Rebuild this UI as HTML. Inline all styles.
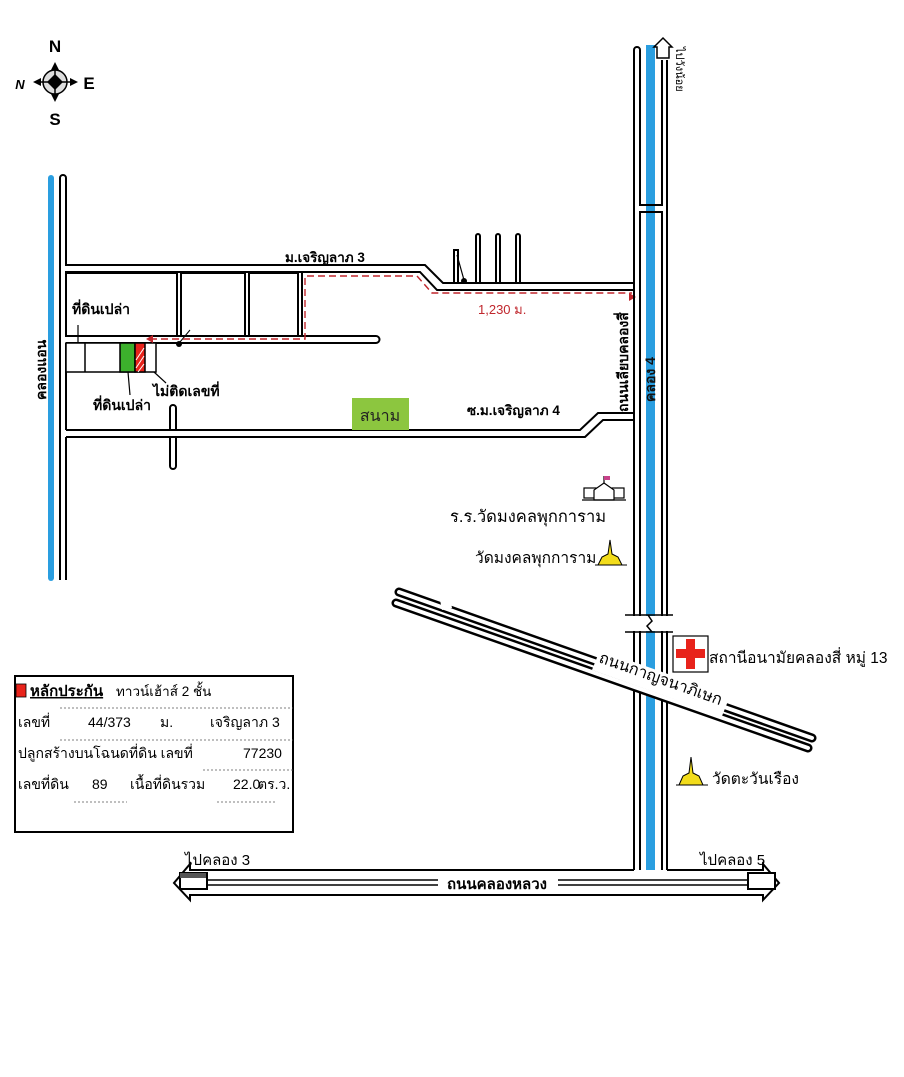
<!DOCTYPE html>
<html><head><meta charset="utf-8"><style>
html,body{margin:0;padding:0;background:#fff;}
svg{display:block;}
text{font-family:"Liberation Sans","Noto Sans CJK SC","WenQuanYi Zen Hei",sans-serif;}
</style></head><body>
<svg width="904" height="1077" viewBox="0 0 904 1077" xmlns="http://www.w3.org/2000/svg">
<rect width="904" height="1077" fill="#fff"/>
<!-- compass -->
<g fill="#000">
<text x="55" y="52" font-size="17" font-weight="bold" text-anchor="middle">N</text>
<text x="55" y="125" font-size="17" font-weight="bold" text-anchor="middle">S</text>
<text x="89" y="89" font-size="17" font-weight="bold" text-anchor="middle">E</text>
<text x="20" y="89" font-size="13" font-weight="bold" font-style="italic" text-anchor="middle">N</text>
<circle cx="55" cy="82" r="12" fill="#ddd" stroke="#000" stroke-width="1.5"/>
<polygon points="55,74 63,82 55,90 47,82"/>
<line x1="55" y1="65" x2="55" y2="99" stroke="#000" stroke-width="1.5"/>
<line x1="38" y1="82" x2="72" y2="82" stroke="#000" stroke-width="1.5"/>
<polygon points="55,62 51,70 59,70"/><polygon points="55,102 51,94 59,94"/>
<polygon points="78,82 70,78 70,86"/><polygon points="33,82 41,78 41,86"/>
</g>

<!-- left canal and road -->
<line x1="51" y1="178" x2="51" y2="578" stroke="#2a9ee0" stroke-width="6" stroke-linecap="round"/>
<g fill="none" stroke="#000" stroke-width="2">
<path d="M60,580 V178 a3,3 0 0 1 6,0 V265 H425 L443,283 H634"/>
<path d="M66,580 V437 M66,430 V343 M66,336 V272 H420 L437,290 H634"/>
<path d="M66,336 H376 a3.5,3.5 0 0 1 0,7 H66"/>
<rect x="66" y="273" width="111" height="63"/>
<rect x="181" y="273" width="64" height="63"/>
<rect x="249" y="273" width="49" height="63"/>
<path d="M302,336 V273"/>
<path d="M454,283 V250 H458 V283 M476,283 V236 a2,2 0 0 1 4,0 V283 M496,283 V236 a2,2 0 0 1 4,0 V283 M516,283 V236 a2,2 0 0 1 4,0 V283"/>
<line x1="457" y1="255" x2="464" y2="280" stroke-width="1.2"/>
<path d="M66,430 H580 L598,413 H634"/>
<path d="M66,437 H585 L603,420 H634"/>
<path d="M170,430 V408 a3,3 0 0 1 6,0 V430 M170,437 V466 a3,3 0 0 0 6,0 V437"/>
</g>
<circle cx="464" cy="281" r="3" fill="#000"/>
<circle cx="179" cy="344" r="3" fill="#000"/>
<line x1="180" y1="342" x2="190" y2="330" stroke="#000" stroke-width="1"/>
<!-- lots -->
<g stroke="#000" stroke-width="1.5">
<rect x="66" y="343" width="90" height="29" fill="#fff"/>
<line x1="85" y1="343" x2="85" y2="372"/>
<rect x="120" y="343" width="15" height="29" fill="#3cb02c"/>
<rect x="135" y="343" width="10" height="29" fill="#e8231b"/>
</g>
<g stroke="#fff" stroke-width="1"><line x1="136" y1="360" x2="144" y2="348"/><line x1="136" y1="368" x2="144" y2="356"/><line x1="138" y1="372" x2="144" y2="364"/></g>
<line x1="78" y1="343" x2="78" y2="325" stroke="#000" stroke-width="1.2"/>
<line x1="128" y1="372" x2="130" y2="395" stroke="#000" stroke-width="1.2"/>
<line x1="154" y1="372" x2="166" y2="383" stroke="#000" stroke-width="1.2"/>
<rect x="352" y="398" width="57" height="32" fill="#8cc63f"/>
<text x="380" y="421" font-size="16" text-anchor="middle" fill="#222">สนาม</text>
<path d="M150,339 H305 V276 H417 L432,293 H632" fill="none" stroke="#c0272d" stroke-width="1.4" stroke-dasharray="7,4"/>
<polygon points="146,339 153,335 153,343" fill="#c0272d"/>
<polygon points="636,297 629,293 629,301" fill="#c0272d"/>

<!-- main vertical road -->
<rect x="646" y="45" width="9" height="825" fill="#2a9ee0"/>
<g fill="none" stroke="#000" stroke-width="2">
<path d="M634,870 V50 a3,3 0 0 1 6,0 V205 H662 V60"/>
<path d="M640,870 V212 H662 V870"/>
<path d="M667,60 V870"/>
</g>
<polygon points="657,58 657,47 654,47 663,38 672,47 669,47 669,58" fill="#fff" stroke="#000" stroke-width="1.5"/>
<rect x="628" y="616" width="46" height="15" fill="#fff"/>
<g stroke="#000" stroke-width="1.5" fill="none">
<line x1="625" y1="615" x2="673" y2="615"/><line x1="625" y1="632" x2="673" y2="632"/>
<path d="M648,615 L652,621 L647,626 L652,632"/>
</g>
<!-- diagonal road -->
<g fill="none" stroke-linecap="round">
<line x1="399" y1="592" x2="812" y2="738" stroke="#000" stroke-width="9"/>
<line x1="399" y1="592" x2="812" y2="738" stroke="#fff" stroke-width="4"/>
<line x1="396" y1="603" x2="808" y2="748" stroke="#000" stroke-width="9"/>
<line x1="396" y1="603" x2="808" y2="748" stroke="#fff" stroke-width="4"/>
</g>
<polygon points="440,600 450,598 452,608 442,610" fill="#fff"/>
<polygon points="600,650 730,696 722,716 592,670" fill="#fff"/>
<text transform="translate(598,662) rotate(19.5)" font-size="16" fill="#000">ถนนกาญจนาภิเษก</text>

<!-- bottom road -->
<g fill="none" stroke="#000" stroke-width="2">
<path d="M634,870 H190 V864 L174,883 L190,900 V895 H763 V900 L779,883 L763,864 V870 H667"/>
<rect x="180" y="873" width="27" height="16" fill="#fff"/>
<rect x="748" y="873" width="27" height="16" fill="#fff"/>
<path d="M207,880 H438 M207,885 H438 M558,880 H748 M558,885 H748" stroke-width="1.5"/>
</g>
<rect x="180" y="873" width="26" height="5" fill="#555"/>
<text x="497" y="889" font-size="15" font-weight="bold" text-anchor="middle">ถนนคลองหลวง</text>
<text x="185" y="865" font-size="15">ไปคลอง 3</text>
<text x="700" y="865" font-size="15">ไปคลอง 5</text>

<!-- labels -->
<text x="285" y="262" font-size="13.5" font-weight="bold">ม.เจริญลาภ 3</text>
<text x="72" y="314" font-size="14" font-weight="bold">ที่ดินเปล่า</text>
<text x="93" y="410" font-size="14" font-weight="bold">ที่ดินเปล่า</text>
<text x="153" y="396" font-size="14" font-weight="bold">ไม่ติดเลขที่</text>
<text transform="translate(46,400) rotate(-90)" font-size="14" font-weight="bold">คลองแอน</text>
<text x="478" y="314" font-size="13" fill="#c0272d">1,230 ม.</text>
<text transform="translate(628,412) rotate(-90)" font-size="14" font-weight="bold">ถนนเลียบคลองสี่</text>
<text transform="translate(655,402) rotate(-90)" font-size="14" font-weight="bold" fill="#111">คลอง 4</text>
<text x="467" y="415" font-size="13.5" font-weight="bold">ซ.ม.เจริญลาภ 4</text>
<text transform="translate(676,47) rotate(90)" font-size="11">ไปวังน้อย</text>

<!-- school icon -->
<g stroke="#000" stroke-width="1.2" fill="#fff">
<rect x="584" y="488" width="12" height="10"/><rect x="612" y="488" width="12" height="10"/>
<polygon points="594,500 594,490 604,483 614,490 614,500"/>
<line x1="582" y1="500" x2="626" y2="500"/>
<line x1="604" y1="483" x2="604" y2="476"/>
</g>
<rect x="604" y="476" width="6" height="4" fill="#c8418a"/>
<text x="450" y="522" font-size="16.5">ร.ร.วัดมงคลพุกการาม</text>
<g stroke="#000" stroke-width="1">
<polygon points="598,565 602,557 608,554 610,540 612,554 618,557 622,565" fill="#f2dc1b"/>
<line x1="595" y1="565" x2="627" y2="565"/>
<polygon points="679,785 683,776 689,773 691,757 693,773 699,776 703,785" fill="#f2dc1b"/>
<line x1="676" y1="785" x2="708" y2="785"/>
</g>
<text x="475" y="563" font-size="15.5">วัดมงคลพุกการาม</text>
<text x="712" y="784" font-size="15.5">วัดตะวันเรือง</text>
<rect x="673" y="636" width="35" height="36" fill="#fff" stroke="#000" stroke-width="1.2"/>
<rect x="686" y="639" width="9" height="30" fill="#e8231b"/>
<rect x="676" y="649" width="29" height="9" fill="#e8231b"/>
<text x="709" y="663" font-size="15.5">สถานีอนามัยคลองสี่ หมู่ 13</text>

<!-- legend -->
<rect x="15" y="676" width="278" height="156" fill="#fff" stroke="#000" stroke-width="2"/>
<rect x="16" y="684" width="10" height="13" fill="#e8231b" stroke="#000" stroke-width="0.8"/>
<text x="30" y="696" font-size="15" font-weight="bold" text-decoration="underline">หลักประกัน</text>
<text x="116" y="696" font-size="13.5">ทาวน์เฮ้าส์ 2 ชั้น</text>
<g stroke="#555" stroke-width="0.8" stroke-dasharray="2,2">
<line x1="60" y1="708" x2="293" y2="708"/>
<line x1="60" y1="740" x2="293" y2="740"/>
<line x1="203" y1="770" x2="293" y2="770"/>
<line x1="74" y1="802" x2="127" y2="802"/>
<line x1="217" y1="802" x2="275" y2="802"/>
</g>
<g font-size="14">
<text x="18" y="727">เลขที่</text><text x="88" y="727">44/373</text><text x="160" y="727">ม.</text><text x="210" y="727">เจริญลาภ 3</text>
<text x="18" y="758">ปลูกสร้างบนโฉนดที่ดิน เลขที่</text><text x="243" y="758">77230</text>
<text x="18" y="789">เลขที่ดิน</text><text x="92" y="789">89</text><text x="130" y="789">เนื้อที่ดินรวม</text><text x="233" y="789">22.0</text><text x="258" y="789">ตร.ว.</text>
</g>
</svg>
</body></html>
